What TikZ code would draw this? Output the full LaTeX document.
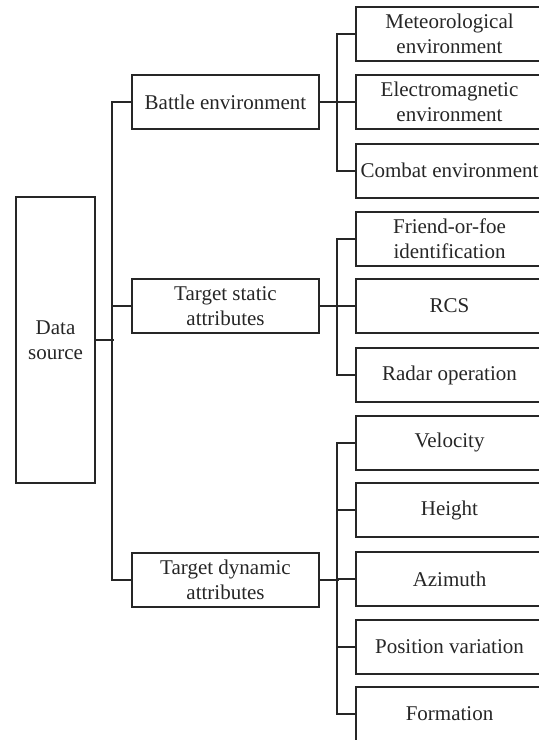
\documentclass[tikz,border=0pt]{standalone}
\usepackage{fontspec}
\setmainfont{Liberation Serif}
\begin{document}
\begin{tikzpicture}[x=0.5pt, y=-0.5pt,
        box/.style={rectangle, draw=black!85, text=black!85, line width=1pt, minimum width=93.5pt, minimum height=27pt, inner sep=1pt, align=center, font=\fontsize{10.5}{12.5}\selectfont},
        link/.style={draw=black!85, line width=1pt}
    ]
        \useasboundingbox (0,0) rectangle (539,740);

        % Root
        \node (src) [box, minimum width=39.5pt, minimum height=143pt] at (55.5,340) {Data\\source};

        % Level 2
        \node (bat) [box] at (225.5,102) {Battle environment};
        \node (sta) [box] at (225.5,306) {Target static\\attributes};
        \node (dyn) [box] at (225.5,579.5) {Target dynamic\\attributes};

        % Level 3: environment
        \node (met) [box] at (449.5,34) {Meteorological\\environment};
        \node (ele) [box] at (449.5,102) {Electromagnetic\\environment};
        \node (com) [box] at (449.5,170.5) {Combat environment};

        % Level 3: static attributes
        \node (iff) [box] at (449.5,238.5) {Friend-or-foe\\identification};
        \node (rcs) [box] at (449.5,306) {RCS};
        \node (rad) [box] at (449.5,375) {Radar operation};

        % Level 3: dynamic attributes
        \node (vel) [box] at (449.5,442.5) {Velocity};
        \node (hgt) [box] at (449.5,510) {Height};
        \node (azi) [box] at (449.5,579) {Azimuth};
        \node (pos) [box] at (449.5,647) {Position variation};
        \node (frm) [box] at (449.5,714) {Formation};

        % Root to level 2
        \draw[link] (src.east) -- ++(18,0);
        \draw[link] (bat.west) -- ++(-19,0) |- (dyn.west);
        \draw[link] (sta.west) -- ++(-19,0);

        % Battle environment
        \draw[link] (bat.east) -- ++(19,0);
        \draw[link] (met.west) -- ++(-18,0) |- (com.west);
        \draw[link] (ele.west) -- ++(-18,0);

        % Target static attributes
        \draw[link] (sta.east) -- ++(19,0);
        \draw[link] (iff.west) -- ++(-18,0) |- (rad.west);
        \draw[link] (rcs.west) -- ++(-18,0);

        % Target dynamic attributes
        \draw[link] (dyn.east) -- ++(19,0);
        \draw[link] (vel.west) -- ++(-18,0) |- (frm.west);
        \draw[link] (hgt.west) -- ++(-18,0);
        \draw[link] (azi.west) -- ++(-18,0);
        \draw[link] (pos.west) -- ++(-18,0);

    \end{tikzpicture}
\end{document}
